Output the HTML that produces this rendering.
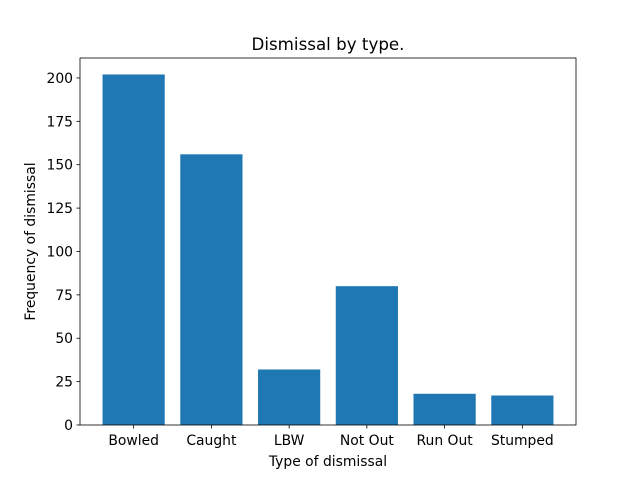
<!DOCTYPE html>
<html><head><meta charset="utf-8"><style>
body{margin:0;background:#fff;}
svg{display:block;font-family:"DejaVu Sans","Liberation Sans",sans-serif;}
</style></head><body>
<svg id="chart" width="640" height="478" xmlns="http://www.w3.org/2000/svg">
<rect width="640" height="478" fill="#fff"/>
<text x="328" y="50" font-size="16.7" text-anchor="middle">Dismissal by type.</text>
<g id="bars"></g>
<g id="axes"></g>
<text x="328" y="466" font-size="13.9" text-anchor="middle">Type of dismissal</text>
<text transform="translate(35,241.5) rotate(-90)" font-size="13.9" text-anchor="middle">Frequency of dismissal</text>
</svg>
<script>
const categories=["Bowled","Caught","LBW","Not Out","Run Out","Stumped"];
const values=[202,156,32,80,18,17];
const yTicks=[0,25,50,75,100,125,150,175,200];
const L=80,R=576,T=58,B=425;
const ymax=211.5, xmin=-0.69, xmax=5.69;
const ns="http://www.w3.org/2000/svg";
function sx(v){return L+(v-xmin)/(xmax-xmin)*(R-L);}
function sy(v){return B-v/ymax*(B-T);}
function mk(tag,attrs,parent){const e=document.createElementNS(ns,tag);for(const k in attrs)e.setAttribute(k,attrs[k]);parent.appendChild(e);return e;}
const bars=document.getElementById('bars'),axes=document.getElementById('axes');
categories.forEach((c,i)=>{
  const x0=sx(i-0.4),x1=sx(i+0.4);
  const r=mk('rect',{x:x0,y:sy(values[i]),width:x1-x0,height:B-sy(values[i]),fill:'#1f77b4'},bars);
  
  
  mk('line',{x1:sx(i),x2:sx(i),y1:B,y2:B+3.5,stroke:'#000','stroke-width':0.8},axes);
  const t=mk('text',{x:sx(i),y:B+20,'font-size':13.9,'text-anchor':'middle'},axes);
  t.textContent=c;
  
  
});
yTicks.forEach(v=>{
  mk('line',{x1:L-3.5,x2:L,y1:sy(v),y2:sy(v),stroke:'#000','stroke-width':0.8},axes);
  const t=mk('text',{x:L-7,y:sy(v)+5,'font-size':13.9,'text-anchor':'end'},axes);
  t.textContent=v;
  
  
});
const f=mk('rect',{x:L,y:T,width:R-L,height:B-T,fill:'none',stroke:'#000','stroke-width':0.8},axes);


</script>
</body></html>
